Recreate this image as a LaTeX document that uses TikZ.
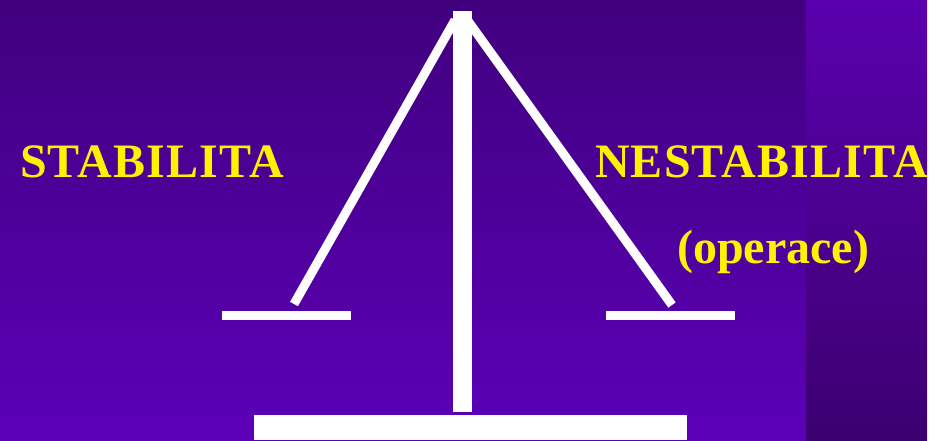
\documentclass[tikz,border=0pt]{standalone}
\usepackage{fontspec}
\setmainfont{Liberation Serif}
\newfontfamily\capsfont[LetterSpace=2.4]{Liberation Serif}
\definecolor{bgtop}{HTML}{40007E}
\definecolor{bgbot}{HTML}{5C00B8}
\definecolor{striptop}{HTML}{5A00AE}
\definecolor{stripbot}{HTML}{3C0070}
\begin{document}
\begin{tikzpicture}[x=1pt,y=-1pt,
  beam/.style={white,line width=9pt},
  word/.style={text=yellow,font=\fontsize{48}{52}\selectfont\bfseries,inner sep=0pt,anchor=base west}]
\useasboundingbox (0,0) rectangle (945,441);
\shade[top color=bgtop,bottom color=bgbot] (0,0) rectangle (806,440);
\shade[top color=striptop,bottom color=stripbot] (806,0) rectangle (927,440);
% the scales
\draw[beam] (455,20) -- (294,304);
\draw[beam] (463,14) -- (672,305);
\fill[white] (453,11) rectangle (472,412);
\fill[white] (254,415) rectangle (687,440);
\fill[white] (222,311) rectangle (351,320);
\fill[white] (606,311) rectangle (735,320);
\node[word,font=\capsfont\fontsize{48}{52}\selectfont\bfseries] (stab) at (20,177) {STABILITA};
\node[word,font=\capsfont\fontsize{48}{52}\selectfont\bfseries] (nestab) at (595,177) {NESTABILITA};
\node[word] (oper) at (677,263) {(operace)};
\end{tikzpicture}
\end{document}
